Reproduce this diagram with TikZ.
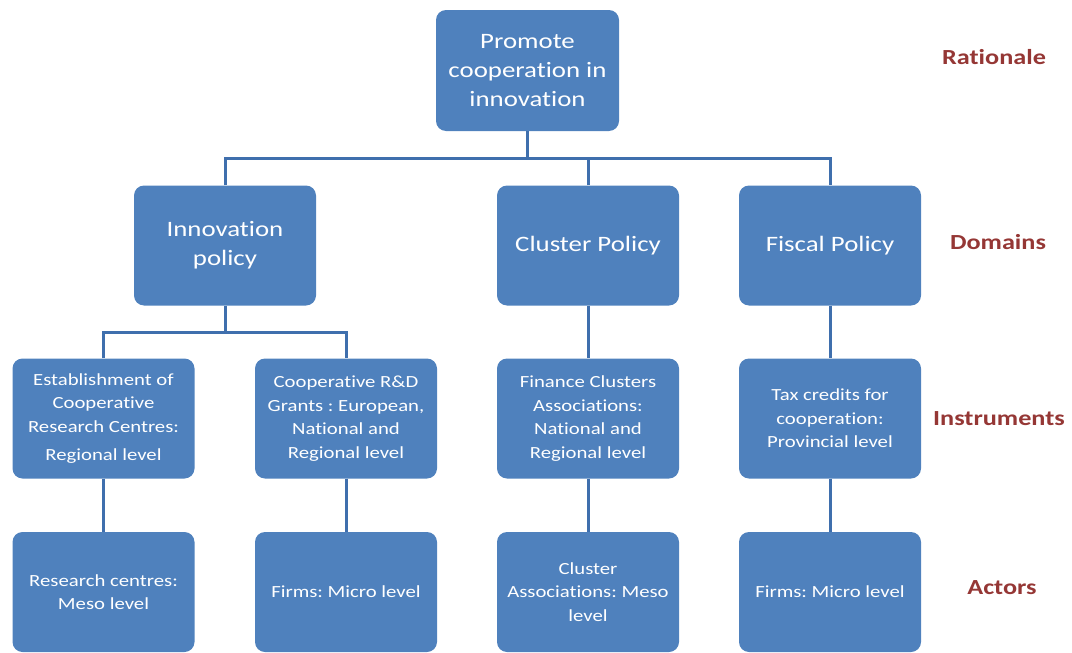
\documentclass[tikz,border=0pt]{standalone}
\usepackage{fontspec}
\setmainfont{Carlito}[FakeStretch=1.22, Ligatures=NoCommon]
\definecolor{boxblue}{HTML}{4F81BD}
\definecolor{linkblue}{HTML}{3F6FAD}
\definecolor{tierred}{HTML}{953735}
\begin{document}
\frenchspacing
\begin{tikzpicture}[x=1pt,y=-1pt,
  box/.style={fill=boxblue, rounded corners=10pt, text=white, align=center,
    minimum width=182pt, minimum height=120pt, inner sep=2pt},
  bigbox/.style={box, font=\fontsize{22}{29}\selectfont},
  smallbox/.style={box, font=\fontsize{17}{23.5}\selectfont},
  link/.style={draw=linkblue, line width=3pt},
  tier/.style={text=tierred, font=\fontsize{21.5}{25}\selectfont\bfseries}]
\useasboundingbox (0,0) rectangle (1072,653);

% rationale
\node[bigbox, minimum width=183pt, minimum height=121pt] (top) at (527.5,70.5)
  {Promote\\cooperation in\\innovation};

% domains
\node[bigbox] (inn) at (225,245.5) {Innovation\\policy};
\node[bigbox] (clu) at (588,245.5) {Cluster Policy};
\node[bigbox] (fis) at (830,245.5) {Fiscal Policy};

% instruments
\node[smallbox] (ins1) at (103.5,418.5)
  {Establishment of\\Cooperative\\Research Centres:\\[5pt]Regional level};
\node[smallbox] (ins2) at (346,418.5)
  {Cooperative R\&D\\Grants : European,\\National and\\Regional level};
\node[smallbox] (ins3) at (588,418.5)
  {Finance Clusters\\Associations:\\National and\\Regional level};
\node[smallbox] (ins4) at (830,418.5)
  {Tax credits for\\cooperation:\\Provincial level};

% actors
\node[smallbox] (act1) at (103.5,592) {Research centres:\\Meso level};
\node[smallbox] (act2) at (346,592) {Firms: Micro level};
\node[smallbox] (act3) at (588,592) {Cluster\\Associations: Meso\\level};
\node[smallbox] (act4) at (830,592) {Firms: Micro level};

% tier labels
\node[tier] (lrat) at (994,57) {Rationale};
\node[tier] (ldom) at (998,242) {Domains};
\node[tier] (lins) at (999,419) {Instruments};
\node[tier] (lact) at (1002,588) {Actors};

% connectors
\coordinate (busA) at (527.5,158);
\coordinate (busB) at (225,332);
\draw[link] (top.south) -- (busA);
\draw[link] (inn.north) -- (inn.north |- busA) -- (fis.north |- busA) -- (fis.north);
\draw[link] (clu.north) -- (clu.north |- busA);
\draw[link] (inn.south) -- (busB);
\draw[link] (ins1.north) -- (ins1.north |- busB) -- (ins2.north |- busB) -- (ins2.north);
\draw[link] (clu.south) -- (ins3.north);
\draw[link] (fis.south) -- (ins4.north);
\draw[link] (ins1.south) -- (act1.north);
\draw[link] (ins2.south) -- (act2.north);
\draw[link] (ins3.south) -- (act3.north);
\draw[link] (ins4.south) -- (act4.north);
\end{tikzpicture}
\end{document}
